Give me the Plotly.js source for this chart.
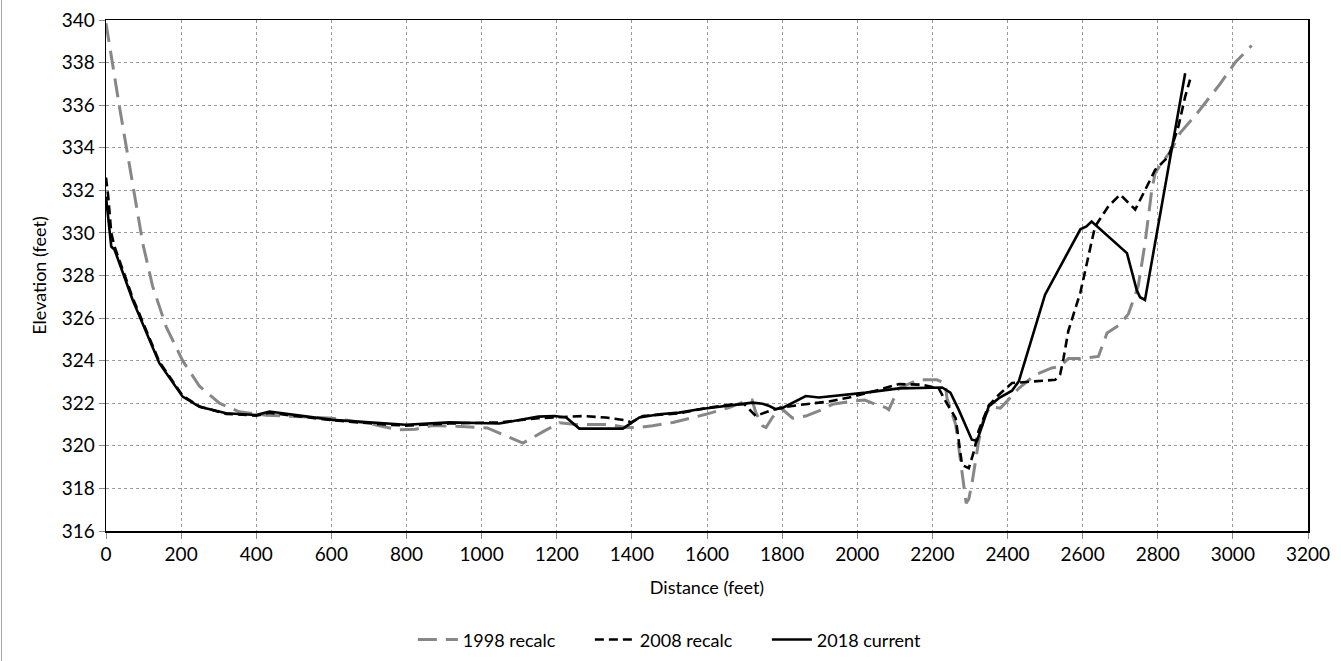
<!DOCTYPE html>
<html>
<head>
<meta charset="utf-8">
<script src="https://cdn.plot.ly/plotly-3.0.1.min.js"></script>
<style>
html,body{margin:0;padding:0;background:#fff;}
#chart{width:1341px;height:661px;}
#edge{position:absolute;left:1px;top:0;width:1px;height:661px;background:#a6a6a6;z-index:5;}
</style>
</head>
<body>
<div id="edge"></div>
<div id="chart"></div>
<script>
// 1998 recalc
const x1998 = [0, 36, 71, 98, 124, 160, 204, 249, 302, 355, 426, 520, 603, 692, 780, 824, 869, 934, 1015, 1060, 1110, 1165, 1207, 1251, 1340, 1384, 1420, 1455, 1509, 1544, 1597, 1659, 1703, 1720, 1730, 1748, 1757, 1774, 1795, 1828, 1863, 1898, 1934, 1987, 2020, 2049, 2076, 2084, 2110, 2163, 2212, 2234, 2239, 2262, 2275, 2283, 2290, 2297, 2306, 2323, 2337, 2354, 2381, 2399, 2430, 2474, 2518, 2540, 2562, 2594, 2642, 2665, 2700, 2722, 2748, 2766, 2784, 2793, 2811, 2833, 2860, 2904, 2966, 3006, 3050];
const y1998 = [339.85, 335.9, 332.3, 329.5, 327.5, 325.6, 324.0, 322.8, 322.0, 321.6, 321.44, 321.35, 321.3, 321.07, 320.75, 320.78, 320.95, 320.92, 320.84, 320.5, 320.13, 320.68, 321.08, 321.0, 321.0, 320.86, 320.86, 320.94, 321.1, 321.25, 321.48, 321.8, 322.1, 322.15, 321.56, 320.94, 320.86, 321.33, 321.8, 321.3, 321.4, 321.64, 321.95, 322.1, 322.15, 321.95, 321.8, 321.7, 322.7, 323.1, 323.1, 322.95, 322.24, 321.0, 319.27, 318.17, 317.3, 317.5, 318.3, 320.2, 321.3, 321.85, 321.77, 322.1, 322.7, 323.34, 323.66, 323.73, 324.1, 324.1, 324.2, 325.3, 325.7, 326.2, 327.5, 329.5, 332.0, 332.8, 333.3, 333.8, 334.7, 335.6, 337.0, 338.0, 338.8];

// 2008 recalc
const x2008 = [0, 6, 14, 22, 71, 142, 204, 249, 320, 400, 435, 603, 743, 798, 914, 1047, 1151, 1198, 1269, 1331, 1384, 1398, 1429, 1526, 1597, 1668, 1700, 1721, 1730, 1745, 1766, 1801, 1845, 1925, 1978, 2031, 2111, 2172, 2217, 2235, 2262, 2279, 2297, 2310, 2323, 2350, 2377, 2412, 2474, 2527, 2540, 2549, 2562, 2594, 2633, 2669, 2700, 2722, 2740, 2766, 2793, 2829, 2855, 2873, 2886];
const y2008 = [332.6, 331.7, 330.0, 329.4, 326.95, 323.95, 322.35, 321.85, 321.5, 321.42, 321.55, 321.2, 321.0, 320.95, 321.05, 321.1, 321.3, 321.33, 321.4, 321.33, 321.2, 321.1, 321.4, 321.53, 321.77, 321.95, 321.95, 321.56, 321.4, 321.5, 321.64, 321.8, 321.92, 322.08, 322.27, 322.5, 322.9, 322.87, 322.7, 322.1, 321.3, 319.1, 318.95, 319.7, 320.7, 321.9, 322.4, 322.95, 323.03, 323.1, 323.34, 324.1, 325.4, 327.2, 330.3, 331.26, 331.8, 331.4, 331.1, 332.0, 332.96, 333.6, 335.0, 336.4, 337.2];

// 2018 current
const x2018 = [0, 14, 23, 71, 142, 204, 249, 320, 400, 435, 603, 798, 914, 1047, 1151, 1194, 1225, 1260, 1376, 1398, 1420, 1473, 1526, 1579, 1650, 1721, 1748, 1766, 1783, 1801, 1863, 1898, 2023, 2111, 2226, 2248, 2270, 2305, 2319, 2350, 2377, 2412, 2430, 2500, 2594, 2610, 2624, 2718, 2744, 2753, 2766, 2873];
const y2018 = [331.7, 329.36, 329.2, 326.85, 323.88, 322.31, 321.83, 321.53, 321.45, 321.61, 321.22, 320.99, 321.1, 321.05, 321.37, 321.4, 321.33, 320.81, 320.81, 321.05, 321.33, 321.48, 321.56, 321.72, 321.87, 322.03, 321.98, 321.87, 321.72, 321.78, 322.34, 322.27, 322.5, 322.7, 322.74, 322.5, 321.7, 320.29, 320.24, 321.85, 322.24, 322.59, 323.03, 327.1, 330.17, 330.3, 330.53, 329.05, 327.32, 326.98, 326.85, 337.5];

const seriesNames = ['1998 recalc', '2008 recalc', '2018 current'];
const xTicks = [0, 200, 400, 600, 800, 1000, 1200, 1400, 1600, 1800, 2000, 2200, 2400, 2600, 2800, 3000, 3200];
const yTicks = [316, 318, 320, 322, 324, 326, 328, 330, 332, 334, 336, 338, 340];

const font = 'Lato, "Liberation Sans", sans-serif';

const traces = [
  {x: x1998, y: y1998, name: seriesNames[0], mode: 'lines', type: 'scatter',
   line: {color: '#878787', width: 3, dash: '19px,9px'}},
  {x: x2008, y: y2008, name: seriesNames[1], mode: 'lines', type: 'scatter',
   line: {color: '#000000', width: 2.6, dash: '9px,5px'}},
  {x: x2018, y: y2018, name: seriesNames[2], mode: 'lines', type: 'scatter',
   line: {color: '#000000', width: 2.6}}
];

const layout = {
  width: 1341, height: 661,
  margin: {l: 106, r: 33, t: 20, b: 130, autoexpand: false},
  paper_bgcolor: '#ffffff', plot_bgcolor: '#ffffff',
  font: {family: font, size: 18, color: '#000'},
  showlegend: true,
  legend: {orientation: 'h', x: 0.2553, xanchor: 'left', y: -0.213, yanchor: 'middle',
           font: {family: font, size: 18, color: '#000'}, traceorder: 'normal',
           itemwidth: 40, entrywidth: 122, entrywidthmode: 'pixels'},
  xaxis: {
    range: [0, 3200], tickvals: xTicks, ticktext: xTicks.map(String),
    showgrid: true, gridcolor: '#9a9a9a', griddash: 'dot', gridwidth: 1,
    zeroline: false, showline: true, linecolor: '#000', linewidth: 1.5, mirror: true,
    ticks: 'outside', ticklen: 6, tickcolor: '#888',
    tickfont: {family: font, size: 19, color: '#000'},
    title: {text: 'Distance (feet)', font: {family: font, size: 18, color: '#000'}, standoff: 17}
  },
  yaxis: {
    range: [316, 340], tickvals: yTicks, ticktext: yTicks.map(String),
    showgrid: true, gridcolor: '#9a9a9a', griddash: 'dot', gridwidth: 1,
    zeroline: false, showline: true, linecolor: '#000', linewidth: 1.5, mirror: true,
    ticks: 'outside', ticklen: 6, tickcolor: '#888',
    tickfont: {family: font, size: 19, color: '#000'},
    title: {text: 'Elevation (feet)', font: {family: font, size: 18, color: '#000'}, standoff: 10}
  }
};

Plotly.newPlot('chart', traces, layout, {displayModeBar: false, staticPlot: true});
</script>
</body>
</html>
